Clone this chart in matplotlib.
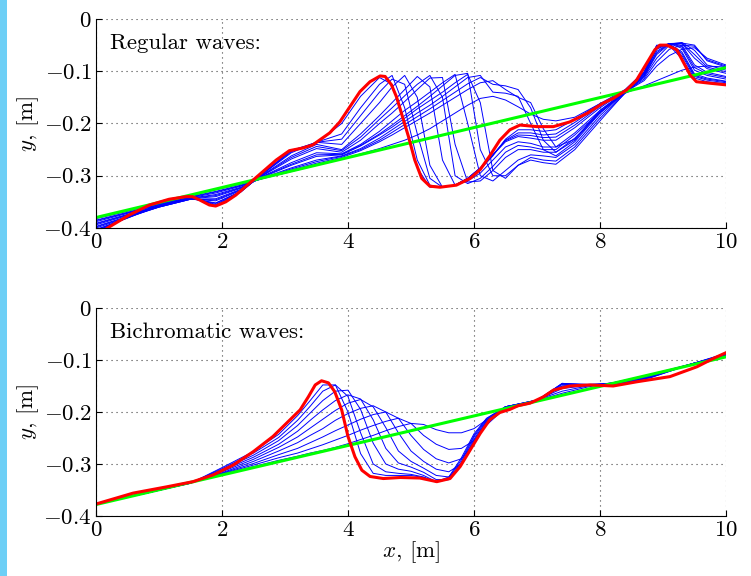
import matplotlib
matplotlib.use('Agg')
import matplotlib.pyplot as plt
from matplotlib.patches import Rectangle

plt.rcParams['font.family'] = ['cmr10', 'DejaVu Serif']
plt.rcParams['mathtext.fontset'] = 'cm'
plt.rcParams['axes.unicode_minus'] = False

# ---- regular waves (top) ----
top_x = [0, 0.5, 1.0, 1.5, 1.9, 2.3, 2.7, 3.1, 3.5, 3.9, 4.2, 4.5, 4.7, 4.9,
         5.1, 5.3, 5.5, 5.7, 5.9, 6.1, 6.3, 6.5, 6.7, 6.9, 7.1, 7.3, 7.6,
         8.0, 8.4, 8.7, 8.9, 9.1, 9.3, 9.5, 9.7, 10.0]
top_blue = [
    [-0.382, -0.368, -0.352, -0.338, -0.327, -0.316, -0.304, -0.292, -0.28, -0.268, -0.258, -0.248, -0.24, -0.232,
     -0.222, -0.21, -0.195, -0.18, -0.165, -0.152, -0.148, -0.155, -0.168, -0.182, -0.192, -0.195, -0.188,
     -0.162, -0.142, -0.128, -0.118, -0.108, -0.098, -0.092, -0.09, -0.092],
    [-0.385, -0.37, -0.354, -0.34, -0.33, -0.318, -0.303, -0.289, -0.276, -0.265, -0.252, -0.235, -0.222, -0.208,
     -0.194, -0.18, -0.165, -0.15, -0.135, -0.122, -0.118, -0.135, -0.15, -0.16, -0.21, -0.245, -0.23,
     -0.175, -0.14, -0.118, -0.09, -0.07, -0.058, -0.055, -0.075, -0.088],
    [-0.386, -0.371, -0.355, -0.341, -0.331, -0.319, -0.303, -0.287, -0.273, -0.263, -0.25, -0.232, -0.217, -0.202,
     -0.187, -0.172, -0.156, -0.14, -0.124, -0.112, -0.125, -0.128, -0.135, -0.17, -0.232, -0.255, -0.232,
     -0.178, -0.14, -0.115, -0.082, -0.058, -0.05, -0.052, -0.078, -0.09],
    [-0.388, -0.372, -0.356, -0.342, -0.333, -0.32, -0.302, -0.285, -0.27, -0.262, -0.248, -0.228, -0.212, -0.196,
     -0.18, -0.165, -0.148, -0.13, -0.112, -0.108, -0.14, -0.142, -0.148, -0.2, -0.25, -0.262, -0.235,
     -0.18, -0.14, -0.112, -0.075, -0.05, -0.046, -0.05, -0.08, -0.092],
    [-0.391, -0.374, -0.358, -0.343, -0.336, -0.322, -0.3, -0.28, -0.263, -0.26, -0.243, -0.222, -0.207, -0.19,
     -0.172, -0.156, -0.14, -0.122, -0.106, -0.16, -0.29, -0.305, -0.28, -0.265, -0.27, -0.272, -0.245,
     -0.19, -0.142, -0.11, -0.068, -0.048, -0.045, -0.06, -0.088, -0.098],
    [-0.392, -0.375, -0.358, -0.343, -0.338, -0.323, -0.299, -0.278, -0.26, -0.259, -0.242, -0.22, -0.203, -0.185,
     -0.167, -0.148, -0.128, -0.108, -0.104, -0.25, -0.3, -0.3, -0.28, -0.27, -0.275, -0.278, -0.25,
     -0.195, -0.141, -0.109, -0.065, -0.047, -0.046, -0.068, -0.092, -0.101],
    [-0.394, -0.376, -0.359, -0.344, -0.34, -0.324, -0.298, -0.275, -0.256, -0.258, -0.24, -0.215, -0.195, -0.175,
     -0.158, -0.14, -0.122, -0.106, -0.2, -0.3, -0.31, -0.29, -0.27, -0.26, -0.262, -0.265, -0.24,
     -0.185, -0.14, -0.108, -0.062, -0.047, -0.047, -0.075, -0.095, -0.104],
    [-0.397, -0.378, -0.36, -0.345, -0.344, -0.326, -0.296, -0.268, -0.248, -0.255, -0.232, -0.2, -0.18, -0.158,
     -0.135, -0.113, -0.112, -0.24, -0.312, -0.31, -0.29, -0.265, -0.25, -0.25, -0.255, -0.255, -0.228,
     -0.18, -0.14, -0.106, -0.058, -0.047, -0.05, -0.088, -0.102, -0.11],
    [-0.398, -0.379, -0.36, -0.345, -0.346, -0.327, -0.295, -0.265, -0.244, -0.252, -0.226, -0.192, -0.17, -0.147,
     -0.125, -0.108, -0.15, -0.3, -0.315, -0.305, -0.282, -0.255, -0.242, -0.245, -0.25, -0.25, -0.222,
     -0.178, -0.139, -0.105, -0.056, -0.047, -0.053, -0.093, -0.105, -0.112],
    [-0.4, -0.38, -0.36, -0.345, -0.348, -0.328, -0.294, -0.262, -0.24, -0.25, -0.22, -0.185, -0.16, -0.135,
     -0.11, -0.13, -0.27, -0.318, -0.31, -0.295, -0.27, -0.245, -0.235, -0.238, -0.245, -0.245, -0.218,
     -0.175, -0.138, -0.104, -0.055, -0.047, -0.056, -0.098, -0.108, -0.115],
    [-0.403, -0.381, -0.358, -0.344, -0.352, -0.33, -0.292, -0.256, -0.236, -0.24, -0.2, -0.16, -0.13, -0.108,
     -0.15, -0.28, -0.322, -0.318, -0.305, -0.285, -0.26, -0.235, -0.225, -0.228, -0.232, -0.232, -0.208,
     -0.17, -0.137, -0.103, -0.053, -0.048, -0.063, -0.105, -0.113, -0.119],
    [-0.404, -0.381, -0.356, -0.343, -0.353, -0.33, -0.291, -0.254, -0.236, -0.23, -0.185, -0.14, -0.115, -0.125,
     -0.22, -0.305, -0.322, -0.318, -0.305, -0.285, -0.26, -0.233, -0.222, -0.223, -0.227, -0.226, -0.203,
     -0.167, -0.136, -0.102, -0.052, -0.048, -0.066, -0.108, -0.115, -0.12],
    [-0.406, -0.38, -0.354, -0.341, -0.355, -0.331, -0.291, -0.252, -0.236, -0.22, -0.17, -0.125, -0.108, -0.17,
     -0.27, -0.318, -0.322, -0.318, -0.305, -0.285, -0.26, -0.232, -0.218, -0.218, -0.222, -0.22, -0.198,
     -0.165, -0.136, -0.102, -0.051, -0.049, -0.07, -0.11, -0.117, -0.122],
    [-0.408, -0.378, -0.35, -0.339, -0.357, -0.331, -0.29, -0.251, -0.238, -0.2, -0.148, -0.112, -0.125, -0.2,
     -0.285, -0.322, -0.322, -0.318, -0.305, -0.288, -0.262, -0.23, -0.212, -0.212, -0.215, -0.212, -0.192,
     -0.162, -0.135, -0.101, -0.05, -0.051, -0.076, -0.113, -0.12, -0.124],
]
top_red_x = [0, 0.21, 0.53, 0.85, 1.16, 1.43, 1.53, 1.64, 1.8, 1.9, 2.06, 2.22, 2.43, 2.65,
             2.86, 3.07, 3.28, 3.44, 3.71, 3.87, 4.03, 4.19, 4.35, 4.51, 4.59, 4.69,
             4.77, 4.85, 4.96, 5.06, 5.17, 5.3, 5.46, 5.72, 5.94, 6.1, 6.25, 6.41,
             6.57, 6.73, 7.0, 7.26, 7.52, 7.79, 8.05, 8.21, 8.42, 8.58, 8.74, 8.87,
             8.95, 9.06, 9.22, 9.32, 9.43, 9.53, 9.75, 10.0]
top_red_y = [-0.415, -0.398, -0.375, -0.356, -0.345, -0.34, -0.34, -0.346, -0.356, -0.358, -0.35, -0.337, -0.315, -0.292,
             -0.27, -0.252, -0.247, -0.241, -0.218, -0.197, -0.168, -0.139, -0.12, -0.109, -0.11, -0.126,
             -0.149, -0.181, -0.225, -0.27, -0.305, -0.32, -0.322, -0.318, -0.305, -0.288, -0.262, -0.232,
             -0.212, -0.203, -0.206, -0.206, -0.197, -0.181, -0.161, -0.152, -0.136, -0.117, -0.085, -0.059,
             -0.05, -0.05, -0.059, -0.082, -0.107, -0.12, -0.123, -0.126]
green_x = [0, 10]
top_green = [-0.38, -0.093]

# ---- bichromatic waves (bottom) ----
bot_x = [0, 0.8, 1.5, 2.0, 2.5, 2.9, 3.2, 3.4, 3.6, 3.8, 4.0, 4.2, 4.4, 4.6, 4.8,
         5.0, 5.2, 5.4, 5.6, 5.8, 6.0, 6.2, 6.5, 7.0, 7.4, 7.8, 8.2, 8.8, 9.5, 10.0]
bot_blue = [
    [-0.377, -0.356, -0.336, -0.32, -0.305, -0.293, -0.285, -0.279, -0.274, -0.268, -0.261, -0.253, -0.245, -0.236, -0.228,
     -0.222, -0.224, -0.234, -0.24, -0.24, -0.232, -0.215, -0.193, -0.178, -0.164, -0.152, -0.144, -0.128, -0.106, -0.093],
    [-0.377, -0.356, -0.336, -0.319, -0.302, -0.288, -0.279, -0.271, -0.263, -0.254, -0.245, -0.235, -0.226, -0.218, -0.212,
     -0.222, -0.245, -0.262, -0.272, -0.27, -0.255, -0.225, -0.192, -0.177, -0.16, -0.15, -0.144, -0.129, -0.106, -0.093],
    [-0.377, -0.356, -0.336, -0.318, -0.299, -0.282, -0.27, -0.259, -0.248, -0.236, -0.225, -0.214, -0.205, -0.2, -0.212,
     -0.245, -0.272, -0.29, -0.298, -0.29, -0.26, -0.222, -0.19, -0.177, -0.155, -0.149, -0.144, -0.13, -0.106, -0.092],
    [-0.377, -0.356, -0.336, -0.317, -0.295, -0.275, -0.259, -0.245, -0.232, -0.216, -0.203, -0.193, -0.188, -0.2, -0.24,
     -0.275, -0.295, -0.31, -0.315, -0.3, -0.258, -0.22, -0.19, -0.177, -0.15, -0.148, -0.145, -0.13, -0.106, -0.092],
    [-0.377, -0.356, -0.336, -0.315, -0.291, -0.268, -0.248, -0.231, -0.214, -0.197, -0.183, -0.176, -0.19, -0.23, -0.275,
     -0.295, -0.308, -0.322, -0.325, -0.302, -0.255, -0.218, -0.19, -0.177, -0.146, -0.147, -0.145, -0.131, -0.106, -0.091],
    [-0.377, -0.356, -0.337, -0.313, -0.287, -0.262, -0.237, -0.216, -0.196, -0.178, -0.167, -0.175, -0.215, -0.27, -0.298,
     -0.306, -0.316, -0.33, -0.33, -0.3, -0.252, -0.217, -0.19, -0.178, -0.145, -0.147, -0.146, -0.132, -0.106, -0.09],
    [-0.377, -0.356, -0.337, -0.311, -0.283, -0.255, -0.226, -0.202, -0.178, -0.16, -0.158, -0.195, -0.26, -0.3, -0.31,
     -0.314, -0.322, -0.334, -0.33, -0.296, -0.248, -0.215, -0.19, -0.178, -0.145, -0.148, -0.147, -0.133, -0.106, -0.089],
    [-0.377, -0.356, -0.337, -0.309, -0.279, -0.249, -0.216, -0.189, -0.16, -0.148, -0.17, -0.24, -0.3, -0.315, -0.318,
     -0.32, -0.325, -0.335, -0.327, -0.292, -0.245, -0.213, -0.19, -0.179, -0.147, -0.148, -0.148, -0.134, -0.106, -0.088],
    [-0.377, -0.355, -0.337, -0.307, -0.276, -0.243, -0.207, -0.178, -0.148, -0.148, -0.2, -0.28, -0.318, -0.322, -0.322,
     -0.322, -0.326, -0.334, -0.325, -0.288, -0.242, -0.212, -0.19, -0.18, -0.15, -0.148, -0.149, -0.134, -0.106, -0.087],
]
bot_red_x = [0, 0.59, 1.12, 1.54, 1.86, 2.18, 2.5, 2.81, 3.08, 3.24, 3.37, 3.48, 3.58, 3.69,
             3.79, 3.9, 4.0, 4.11, 4.22, 4.35, 4.56, 4.83, 5.14, 5.41, 5.62, 5.78,
             5.94, 6.1, 6.25, 6.41, 6.57, 6.7, 6.89, 7.1, 7.26, 7.52, 7.84, 8.21,
             8.58, 9.11, 9.54, 9.8, 10.0]
bot_red_y = [-0.377, -0.356, -0.344, -0.334, -0.321, -0.302, -0.276, -0.247, -0.215, -0.196, -0.171, -0.148, -0.14, -0.144,
             -0.161, -0.196, -0.247, -0.286, -0.312, -0.324, -0.328, -0.326, -0.327, -0.334, -0.328, -0.305,
             -0.273, -0.241, -0.215, -0.201, -0.195, -0.188, -0.183, -0.171, -0.158, -0.15, -0.148, -0.15,
             -0.142, -0.132, -0.113, -0.097, -0.086]
bot_green = [-0.378, -0.094]

titles = ['Regular waves:', 'Bichromatic waves:']
xticks = [0, 2, 4, 6, 8, 10]
yticks = [-0.4, -0.3, -0.2, -0.1, 0]
ytick_labels = ['$-0.4$', '$-0.3$', '$-0.2$', '$-0.1$', '$0$']

fig = plt.figure(figsize=(7.51, 5.76), dpi=100)
fig.patches.append(Rectangle((0, 0), 7 / 751., 1, transform=fig.transFigure,
                             facecolor='#6dcff6', edgecolor='none'))

ax1 = fig.add_axes([0.1278, 0.6042, 0.8389, 0.3628])
ax2 = fig.add_axes([0.1278, 0.1042, 0.8389, 0.3611])

panels = [(ax1, top_x, top_blue, top_red_x, top_red_y, top_green),
          (ax2, bot_x, bot_blue, bot_red_x, bot_red_y, bot_green)]

for i, (ax, xb, blues, rx, ry, gy) in enumerate(panels):
    for yb in blues:
        ax.plot(xb, yb, color='#0000ff', lw=0.7)
    ax.plot(green_x, gy, color='#00ff00', lw=2.2)
    ax.plot(rx, ry, color='#ff0000', lw=2.2, solid_joinstyle='round')
    ax.set_xlim(0, 10)
    ax.set_ylim(-0.4, 0)
    ax.set_xticks(xticks)
    ax.set_xticklabels(['$%d$' % t for t in xticks])
    ax.set_yticks(yticks)
    ax.set_yticklabels(ytick_labels)
    ax.tick_params(direction='in', length=4, labelsize=16.5, pad=3)
    ax.grid(True, linestyle=(0, (1, 3.5)), color='#444444', lw=0.8)
    ax.spines['top'].set_visible(False)
    ax.spines['right'].set_visible(False)
    ax.set_ylabel('$y$, [m]', fontsize=16.5, labelpad=2)
    ax.text(0.022, 0.93, titles[i], transform=ax.transAxes, fontsize=16.5, va='top')

ax2.set_xlabel('$x$, [m]', fontsize=16.5, labelpad=0)

fig.savefig('out.png', dpi=100)
